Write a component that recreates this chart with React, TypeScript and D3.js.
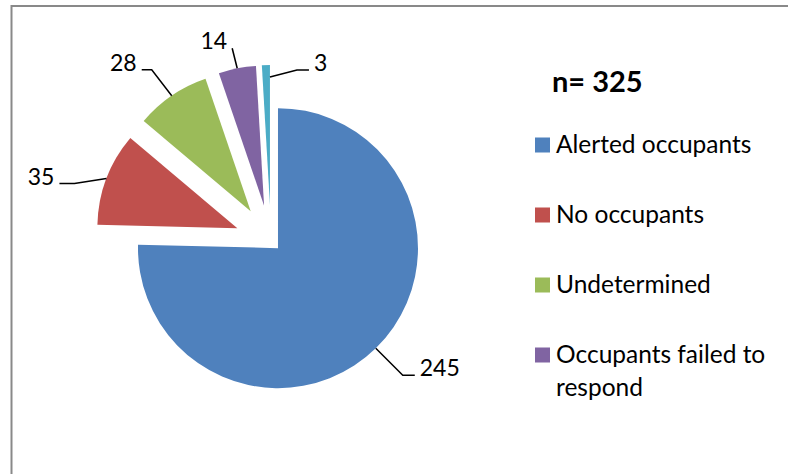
import { useEffect, useRef } from "react";
import * as d3 from "d3";

// Smoke alarm outcome, n = 325
const categories = ["Alerted occupants", "No occupants", "Undetermined", "Occupants failed to respond", "Other"];
const values = [245, 35, 28, 14, 3];
const colors = ["#4F81BD", "#C0504D", "#9BBB59", "#8064A2", "#4BACC6"];
const legendShown = 4; // the fifth entry falls outside the frame
const title = "n= 325";

const App = () => {
    const chartRef = useRef<SVGSVGElement>(null);

    useEffect(() => {
        const svg = d3.select(chartRef.current);
        svg.selectAll("*").remove();

        const width = 788;
        const height = 474;
        const radius = 140;
        const cx = 271;
        const cy = 241;
        const explode = [10, 36, 36, 36, 36];
        const font = "Lato, 'Liberation Sans', sans-serif";

        // leader lines: elbow offset from the slice anchor, then a horizontal run
        const leaders = [
            { at: "mid", dx: 27, dy: 27, run: 12 },
            { at: "mid", dx: -32, dy: 5, run: -15 },
            { at: "mid", dx: -20, dy: -26, run: -10 },
            { at: "mid", dx: -5, dy: -20, run: 0 },
            { at: "end", dx: 27, dy: -7, run: 12 },
        ];

        svg.attr("width", width).attr("height", height);

        // chart frame
        svg.append("rect")
            .attr("x", 11.5)
            .attr("y", 6)
            .attr("width", width + 20)
            .attr("height", height + 20)
            .attr("fill", "white")
            .attr("stroke", "#898989")
            .attr("stroke-width", 2);

        const pie = d3.pie<number>().sort(null).value((d) => d)(values);
        const arc = d3.arc<d3.PieArcDatum<number>>().innerRadius(0).outerRadius(radius);

        const offset = (d: d3.PieArcDatum<number>, i: number) => {
            const a = (d.startAngle + d.endAngle) / 2;
            return [cx + Math.sin(a) * explode[i], cy - Math.cos(a) * explode[i]];
        };

        svg.append("g")
            .selectAll("path")
            .data(pie)
            .enter()
            .append("path")
            .attr("transform", (d, i) => `translate(${offset(d, i)})`)
            .attr("d", arc)
            .attr("fill", (d, i) => colors[i]);

        // data labels with leader lines
        const lab = svg.append("g");
        pie.forEach((d, i) => {
            const [ox, oy] = offset(d, i);
            const L = leaders[i];
            let ax, ay;
            if (L.at === "end") {
                ax = ox + Math.sin(d.endAngle) * (radius - 12);
                ay = oy - Math.cos(d.endAngle) * (radius - 12);
            } else {
                const a = (d.startAngle + d.endAngle) / 2;
                ax = ox + Math.sin(a) * radius;
                ay = oy - Math.cos(a) * radius;
            }
            const ex = ax + L.dx;
            const ey = ay + L.dy;
            const tx = ex + L.run;
            lab.append("path")
                .attr("d", d3.line()([[ax, ay], [ex, ey], [tx, ey]]))
                .attr("fill", "none")
                .attr("stroke", "black")
                .attr("stroke-width", 1.5);
            const right = L.run > 0;
            lab.append("text")
                .attr("x", right ? tx + 5 : tx - 5)
                .attr("y", ey + 1)
                .attr("text-anchor", right ? "start" : "end")
                .attr("font-family", font)
                .attr("font-size", 23)
                .attr("fill", "black")
                .text(values[i]);
        });

        // legend
        svg.append("text")
            .attr("x", 552)
            .attr("y", 92)
            .attr("font-family", font)
            .attr("font-weight", "bold")
            .attr("font-size", 29)
            .text(title);

        const rowY = d3.scaleLinear().domain([0, 1]).range([145, 215]);
        const maxW = 225;
        const legend = svg.append("g");
        categories.slice(0, legendShown).forEach((name, i) => {
            const y = rowY(i);
            legend.append("rect")
                .attr("x", 535)
                .attr("y", y - 7.5)
                .attr("width", 15)
                .attr("height", 15)
                .attr("fill", colors[i]);
            const text = legend.append("text")
                .attr("x", 556)
                .attr("y", y + 8)
                .attr("font-family", font)
                .attr("font-size", 24.5)
                .attr("fill", "black");
            // wrap long names
            const words = name.split(" ");
            let line: string[] = [];
            let tspan = text.append("tspan").attr("x", 556).attr("dy", 0);
            words.forEach((w) => {
                line.push(w);
                tspan.text(line.join(" "));
                if ((tspan.node() as SVGTSpanElement).getComputedTextLength() > maxW && line.length > 1) {
                    line.pop();
                    tspan.text(line.join(" "));
                    line = [w];
                    tspan = text.append("tspan").attr("x", 556).attr("dy", 33).text(w);
                }
            });
        });
    }, []);

    return (
        <svg ref={chartRef} style={{ position: "absolute", left: 0, top: 0 }}></svg>
    );
};

export default App;
